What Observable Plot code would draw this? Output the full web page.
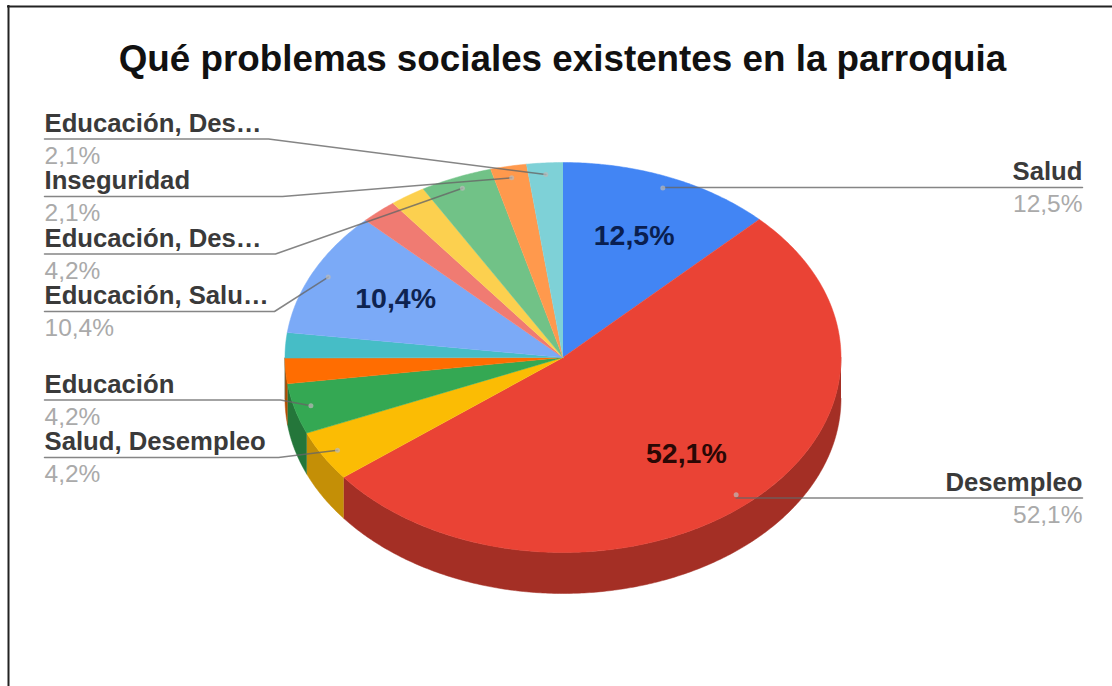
<!DOCTYPE html>
<html>
<head>
<meta charset="utf-8">
<script src="https://cdn.jsdelivr.net/npm/d3@7"></script>
<script src="https://cdn.jsdelivr.net/npm/@observablehq/plot@0.6"></script>
<style>
  html, body { margin: 0; padding: 0; background: #fff; }
  svg { display: block; }
</style>
</head>
<body>
<script>
// Survey shares, clockwise from twelve o'clock.
const titleText = "Qué problemas sociales existentes en la parroquia";
const shares = [12.5, 52.1, 4.2, 4.2, 2.1, 2.1, 10.4, 2.1, 2.1, 4.2, 2.1, 2.1];
const sliceNames = ["Salud", "Desempleo", "Salud, Desempleo", "Educación", null, null,
  "Educación, Salu…", null, null, "Educación, Des…", "Inseguridad", "Educación, Des…"];
const topColors = ["#4285F4", "#EA4335", "#FBBC04", "#34A853", "#FF6D01", "#46BDC6",
  "#7BAAF7", "#F07B72", "#FCD04F", "#71C287", "#FF994D", "#7ED1D7"];
const sideColors = ["#2E5DAB", "#A42F25", "#C48F06", "#24763A", "#B34C01", "#31848B",
  "#5677AD", "#A85650", "#B09237", "#4F885F", "#B36B36", "#588F96"];
const insideLabelColors = ["#0A1F50", "#2A0805", "#333", "#333", "#333", "#333",
  "#0E2350", "#333", "#333", "#333", "#333", "#333"];

// Page and pie layout, in pixels.
const width = 1112, height = 686;
const pie = {cx: 562.5, cy: 357, rx: 278, ry: 195, depth: 41};
const anchorRadius = 0.94, insideRadius = 0.67, insideMinShare = 10;
const leftColumn = 44, rightColumn = 1082;

// Where each named slice's callout sits: side, rule height and the elbow on that rule.
const calloutRules = new Map([
  [0, {side: "right", y: 187}],
  [1, {side: "right", y: 497.5}],
  [11, {side: "left", y: 138.5, elbow: 268}],
  [10, {side: "left", y: 196, elbow: 282}],
  [9, {side: "left", y: 253.5, elbow: 275}],
  [6, {side: "left", y: 311, elbow: 274}],
  [3, {side: "left", y: 399.5, elbow: 280}],
  [2, {side: "left", y: 457, elbow: 278}]
]);

const percent = v => v.toFixed(1).replace(".", ",") + "%";

const arcs = d3.pie().sort(null).startAngle(0).endAngle(2 * Math.PI)(shares);
const slices = arcs.map((a, i) => ({
  index: i, start: a.startAngle, end: a.endAngle, mid: (a.startAngle + a.endAngle) / 2,
  share: shares[i], name: sliceNames[i], color: topColors[i], side: sideColors[i]
}));

const onRim = (angle, r = 1) => ({
  x: pie.cx + pie.rx * r * Math.sin(angle),
  y: pie.cy - pie.ry * r * Math.cos(angle)
});

// Sample an angular span finely enough to read as a smooth rim.
const sweep = (a, b) => {
  const n = Math.max(2, Math.ceil((b - a) / 0.01));
  return d3.range(n + 1).map(k => a + (b - a) * k / n);
};

// Top faces: centre, then the rim.
const faces = slices.flatMap(s => [
  {x: pie.cx, y: pie.cy, id: s.index, fill: s.color},
  ...sweep(s.start, s.end).map(t => ({...onRim(t), id: s.index, fill: s.color}))
]);

// Side walls: only the front half of the rim, pushed down by the depth.
const walls = slices.flatMap(s => {
  const a = Math.max(s.start, Math.PI / 2), b = Math.min(s.end, 3 * Math.PI / 2);
  if (b <= a) return [];
  const upper = sweep(a, b).map(t => onRim(t));
  const lower = upper.slice().reverse().map(p => ({x: p.x, y: p.y + pie.depth}));
  return [...upper, ...lower].map(p => ({...p, id: s.index, fill: s.side}));
});

// Callouts: dot inside the slice, slanted segment to the elbow, rule to the column.
const callouts = slices.filter(s => s.name).map(s => {
  const rule = calloutRules.get(s.index);
  const dot = onRim(s.mid, anchorRadius);
  return {...s, ...rule, dot, column: rule.side === "right" ? rightColumn : leftColumn};
});
const leaderPoints = callouts.flatMap(c => {
  const pts = c.side === "right"
    ? [{x: c.dot.x, y: c.y}, {x: c.column, y: c.y}]
    : [c.dot, {x: c.elbow, y: c.y}, {x: c.column, y: c.y}];
  return pts.map(p => ({...p, id: c.index}));
});

const inside = slices.filter(s => s.share >= insideMinShare).map(s => ({
  ...onRim(s.mid, insideRadius), text: percent(s.share), fill: insideLabelColors[s.index]
}));

// One pair of text marks per column, since the text anchor is fixed per mark.
const columnLabels = (side, textAnchor) => {
  const data = callouts.filter(c => c.side === side);
  return [
    Plot.text(data, {
      x: "column", y: "y", text: "name", dy: -7.5, lineAnchor: "bottom", textAnchor,
      fontSize: 25.7, fontWeight: 700, fill: "#3a3a3a"
    }),
    Plot.text(data, {
      x: "column", y: "y", text: d => percent(d.share), dy: 7.5, lineAnchor: "top", textAnchor,
      fontSize: 24.5, fontWeight: 400, fill: "#aaa"
    })
  ];
};

const font = "'Liberation Sans', Arial, sans-serif";
const chart = Plot.plot({
  width, height,
  margin: 0,
  x: {domain: [0, width], range: [0, width], axis: null},
  y: {domain: [0, height], range: [0, height], axis: null},
  color: {type: "identity"},
  style: {background: "#fff", fontFamily: font},
  marks: [
    // Frame: top and left edges only.
    Plot.ruleY([6], {x1: 7, x2: width, stroke: "#222", strokeWidth: 2}),
    Plot.ruleX([8], {y1: 5, y2: height, stroke: "#222", strokeWidth: 2}),

    Plot.text([titleText], {
      frameAnchor: "top", dy: 44, dx: 6, lineAnchor: "top",
      fontSize: 36.8, fontWeight: 700, fill: "#111", text: d => d
    }),

    Plot.line(walls, {x: "x", y: "y", z: "id", fill: "fill", stroke: "fill", strokeWidth: 0.5}),
    Plot.line(faces, {x: "x", y: "y", z: "id", fill: "fill", stroke: "fill", strokeWidth: 0.5}),

    Plot.line(leaderPoints, {x: "x", y: "y", z: "id", stroke: "#666", strokeWidth: 1.5, strokeOpacity: 0.8}),
    Plot.dot(callouts, {x: d => d.dot.x, y: d => d.dot.y, r: 2.5, fill: "#bbb", fillOpacity: 0.7}),

    ...columnLabels("left", "start"),
    ...columnLabels("right", "end"),

    Plot.text(inside, {
      x: "x", y: "y", dy: -1, text: "text", fill: "fill", fontSize: 28.5, fontWeight: 700
    })
  ]
});
document.body.appendChild(chart);
</script>
</body>
</html>
